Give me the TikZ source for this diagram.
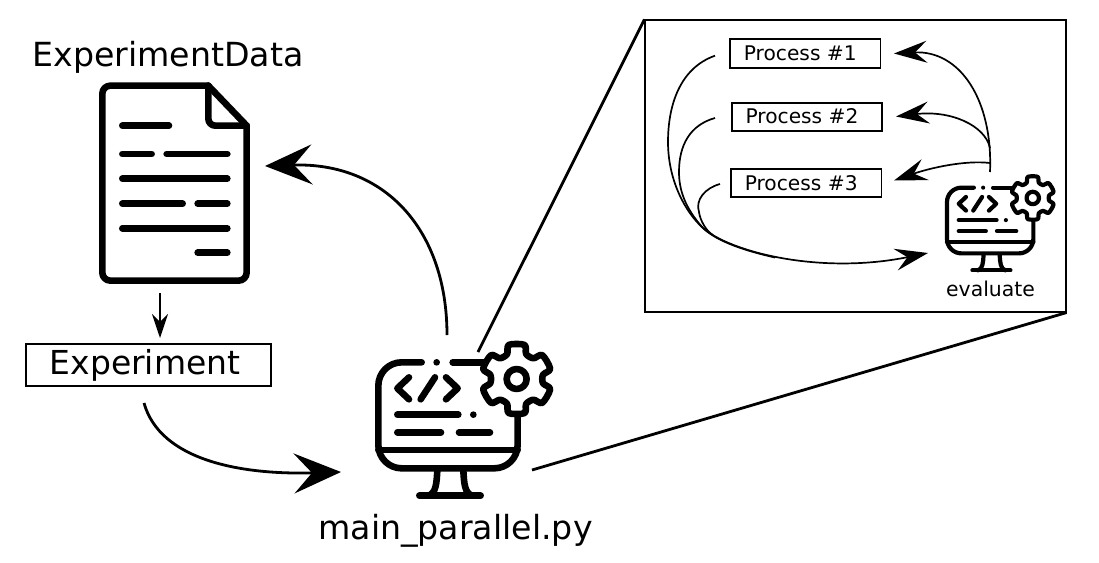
\documentclass[tikz,border=0pt]{standalone}
\usepackage{fontspec}
\setmainfont{DejaVu Sans}
\usetikzlibrary{arrows.meta}
\tikzset{
  bigarrow/.style={line width=2.8pt,-{Stealth[length=47pt,width=40pt,inset=18pt]}},
  midarrow/.style={line width=2.2pt,-{Stealth[length=24pt,width=16pt,inset=8pt]}},
  smallarrow/.style={line width=1.7pt,-{Stealth[length=33pt,width=22pt,inset=12pt]}},
  smallline/.style={line width=1.7pt},
  zoomline/.style={line width=2.8pt},
  labelbox/.style={draw=black,fill=white,line width=1.7pt,minimum width=#1,inner sep=0pt},
  stroke/.style={line cap=round,line join=round,draw=black},
}
\newcommand{\monitoricon}[4]{% x, y, scale, line width
  \begin{scope}[shift={(#1,#2)},scale=#3,stroke,line width=#4]
    \draw[rounded corners=70pt*#3] (185,97) -- (55,97) -- (55,415) -- (473,415) -- (473,255);
    \draw (278,97) -- (375,97);
    \fill (230,97) circle[radius=10];
    \draw (147,142) -- (112,175) -- (147,208);
    \draw (225,142) -- (182,208);
    \draw (258,142) -- (293,175) -- (258,208);
    \draw (112,254) -- (295,254);
    \fill (340,254) circle[radius=10];
    \draw (112,307) -- (243,307);
    \draw (297,307) -- (390,307);
    \draw (55,360) -- (473,360);
    \draw (232,420) .. controls (230,460) and (228,490) .. (205,497);
    \draw (310,420) .. controls (312,460) and (314,490) .. (337,497);
    \draw (178,497) -- (362,497);
    \begin{scope}[shift={(470,147)}]
      \draw[fill=white] plot[smooth cycle,tension=0.5] coordinates {
        (-103:105) (-77:105) (-69:80) (-51:80)
        (-43:105) (-17:105) (-9:80) (9:80)
        (17:105) (43:105) (51:80) (69:80)
        (77:105) (103:105) (111:80) (129:80)
        (137:105) (163:105) (171:80) (189:80)
        (197:105) (223:105) (231:80) (249:80)};
      \draw (0,0) circle[radius=30];
    \end{scope}
  \end{scope}
}
\begin{document}
\begin{tikzpicture}[x=1pt,y=-1pt]
\useasboundingbox (0,0) rectangle (1099,562);
% document icon
\begin{scope}[shift={(90,70)},scale=0.3333,stroke,line width=6.6pt]
  \draw[rounded corners=8pt] (355,47) -- (37,47) -- (37,632) -- (470,632) -- (470,167);
  \draw (355,47) -- (470,167);
  \draw[rounded corners=7pt] (355,47) -- (355,167) -- (470,167);
  \draw (97,167) -- (237,167);
  \draw (97,252) -- (185,252);
  \draw (230,252) -- (412,252);
  \draw (97,326) -- (412,326);
  \draw (97,401) -- (278,401);
  \draw (323,401) -- (412,401);
  \draw (97,475) -- (412,475);
  \draw (323,548) -- (412,548);
\end{scope}
% large monitor
\monitoricon{360}{330}{0.3333}{6.6pt}
% small monitor
\monitoricon{935.6}{167.6}{0.2067}{4.2pt}
% labels
\node[font=\fontsize{33.2}{40}\selectfont] (datalabel) at (168,57) {ExperimentData};
\node[font=\fontsize{33.2}{40}\selectfont] (mainlabel) at (455.5,531) {main\_parallel.py};
\node[font=\fontsize{20.4}{24}\selectfont] (evallabel) at (990.5,289) {evaluate};
\node[labelbox=245pt,line width=2.3pt,minimum height=42pt,font=\fontsize{33}{38}\selectfont] (expbox) at (148.5,365) {\raisebox{1pt}{\hspace*{-7pt}Experiment}};
\node[labelbox=150.5pt,minimum height=28.4pt,font=\fontsize{20.2}{24}\selectfont] (proc1) at (805.3,53.5) {\raisebox{1.5pt}{\hspace*{-10pt}Process \#1}};
\node[labelbox=150.5pt,minimum height=28pt,font=\fontsize{20.2}{24}\selectfont] (proc2) at (807,116.7) {\raisebox{1.5pt}{\hspace*{-10pt}Process \#2}};
\node[labelbox=150.5pt,minimum height=28pt,font=\fontsize{20.2}{24}\selectfont] (proc3) at (806.2,183.3) {\raisebox{1.5pt}{\hspace*{-10pt}Process \#3}};
% zoom frame
\node[draw=black,line width=1.1pt,minimum width=421pt,minimum height=292pt,inner sep=0pt] (zoomframe) at (855.5,166) {};
\coordinate (zoomA) at (478,352);
\coordinate (zoomB) at (532,470);
\draw[zoomline] (zoomA) -- (zoomframe.north west);
\draw[zoomline] (zoomB) -- (zoomframe.south east);
% main arrows
\coordinate (mainTop) at (447,335);
\coordinate (dataTip) at (265,166);
\coordinate (expEnd) at (144,403);
\coordinate (mainTip) at (341,472);
\coordinate (docBottom) at (160,293);
\draw[bigarrow] (mainTop) .. controls (447,230) and (385,162) .. (dataTip);
\draw[bigarrow] (expEnd) .. controls (160,460) and (240,475) .. (mainTip);
\draw[midarrow] (docBottom) -- (160,338);
% inner arrows
\coordinate (p1s) at (715,55.7);
\coordinate (p2s) at (715,118);
\coordinate (p3s) at (720,184);
\coordinate (evalTip) at (928,253);
\coordinate (evalTop) at (990,172);
\coordinate (fork2) at (990,148);
\coordinate (fork3) at (990,163);
\coordinate (merge) at (703,228);
\coordinate (merge3) at (712.9,235);
\coordinate (t1) at (894,53.5);
\coordinate (t2) at (896,116.5);
\coordinate (t3) at (894,180.5);
\draw[smallarrow] (p1s) .. controls (680,68) and (668,105) .. (668,142) .. controls (668,180) and (685,212) .. (merge) .. controls (730,252) and (820,275) .. (evalTip);
\draw[smallline] (p2s) .. controls (690,125) and (679,145) .. (679,172) .. controls (679,190) and (685,208) .. (merge) .. controls (714,238.5) and (735,248.5) .. (775,257.5);
\draw[smallline] (p3s) .. controls (705,188) and (695,200) .. (699,212) .. controls (700,220) and (706,231) .. (merge3);
\draw[smallarrow] (evalTop) .. controls (993,100) and (960,50) .. (t1);
\draw[smallarrow] (fork2) .. controls (985,125) and (950,110) .. (t2);
\draw[smallarrow] (fork3) .. controls (965,160) and (930,168) .. (t3);
\end{tikzpicture}
\end{document}
